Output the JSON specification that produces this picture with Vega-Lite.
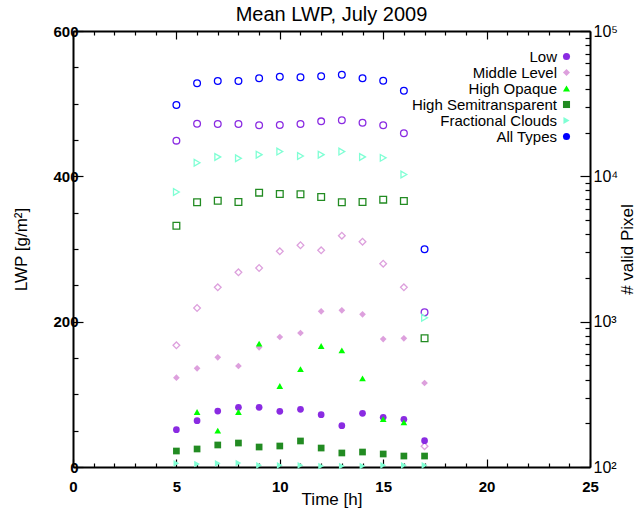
{
  "$schema": "https://vega.github.io/schema/vega-lite/v6.json",
  "width": 517,
  "height": 436,
  "autosize": "none",
  "padding": {"left": 73, "top": 31, "right": 47, "bottom": 47},
  "background": "white",
  "config": {
    "font": "Liberation Sans",
    "view": {"stroke": null},
    "axis": {"grid": false, "domainColor": "black", "domainWidth": 2, "tickColor": "black", "tickWidth": 1.2, "labelColor": "black", "titleColor": "black", "labelOverlap": false, "labelFlush": false}
  },
  "title": {"text": "Mean LWP, July 2009", "fontSize": 20, "fontWeight": "normal", "color": "black", "offset": 10, "baseline": "alphabetic", "dy": 28},
  "data": {
    "values": [
      {"h": 5, "type": "Low", "lwp": 51.3, "n": 17600},
      {"h": 6, "type": "Low", "lwp": 63.7, "n": 23000},
      {"h": 7, "type": "Low", "lwp": 77, "n": 22900},
      {"h": 8, "type": "Low", "lwp": 82.1, "n": 22900},
      {"h": 9, "type": "Low", "lwp": 82.1, "n": 22450},
      {"h": 10, "type": "Low", "lwp": 76.6, "n": 22550},
      {"h": 11, "type": "Low", "lwp": 79.4, "n": 22900},
      {"h": 12, "type": "Low", "lwp": 72, "n": 23900},
      {"h": 13, "type": "Low", "lwp": 56.8, "n": 24300},
      {"h": 14, "type": "Low", "lwp": 73.9, "n": 23400},
      {"h": 15, "type": "Low", "lwp": 68.4, "n": 22450},
      {"h": 16, "type": "Low", "lwp": 65.6, "n": 19800},
      {"h": 17, "type": "Low", "lwp": 36.2, "n": 1160},
      {"h": 5, "type": "Middle Level", "lwp": 122.9, "n": 688},
      {"h": 6, "type": "Middle Level", "lwp": 135.8, "n": 1242},
      {"h": 7, "type": "Middle Level", "lwp": 150.9, "n": 1724},
      {"h": 8, "type": "Middle Level", "lwp": 139, "n": 2187},
      {"h": 9, "type": "Middle Level", "lwp": 164.7, "n": 2340},
      {"h": 10, "type": "Middle Level", "lwp": 178.9, "n": 3050},
      {"h": 11, "type": "Middle Level", "lwp": 184.4, "n": 3355},
      {"h": 12, "type": "Middle Level", "lwp": 214.2, "n": 3098},
      {"h": 13, "type": "Middle Level", "lwp": 215.6, "n": 3905},
      {"h": 14, "type": "Middle Level", "lwp": 210.1, "n": 3550},
      {"h": 15, "type": "Middle Level", "lwp": 176.1, "n": 2506},
      {"h": 16, "type": "Middle Level", "lwp": 177.1, "n": 1724},
      {"h": 17, "type": "Middle Level", "lwp": 115.6, "n": 139},
      {"h": 6, "type": "High Opaque", "lwp": 75.7, "n": null},
      {"h": 7, "type": "High Opaque", "lwp": 50, "n": null},
      {"h": 8, "type": "High Opaque", "lwp": 75.7, "n": null},
      {"h": 9, "type": "High Opaque", "lwp": 169.7, "n": null},
      {"h": 10, "type": "High Opaque", "lwp": 111.5, "n": null},
      {"h": 11, "type": "High Opaque", "lwp": 134.8, "n": null},
      {"h": 12, "type": "High Opaque", "lwp": 166.5, "n": null},
      {"h": 13, "type": "High Opaque", "lwp": 160.6, "n": null},
      {"h": 14, "type": "High Opaque", "lwp": 122, "n": null},
      {"h": 15, "type": "High Opaque", "lwp": 66, "n": null},
      {"h": 16, "type": "High Opaque", "lwp": 61.5, "n": null},
      {"h": 5, "type": "High Semitransparent", "lwp": 22, "n": 4575},
      {"h": 6, "type": "High Semitransparent", "lwp": 24.8, "n": 6630},
      {"h": 7, "type": "High Semitransparent", "lwp": 30.3, "n": 6800},
      {"h": 8, "type": "High Semitransparent", "lwp": 33, "n": 6660},
      {"h": 9, "type": "High Semitransparent", "lwp": 27.5, "n": 7720},
      {"h": 10, "type": "High Semitransparent", "lwp": 28.9, "n": 7560},
      {"h": 11, "type": "High Semitransparent", "lwp": 35.8, "n": 7520},
      {"h": 12, "type": "High Semitransparent", "lwp": 26.1, "n": 7210},
      {"h": 13, "type": "High Semitransparent", "lwp": 19.3, "n": 6630},
      {"h": 14, "type": "High Semitransparent", "lwp": 20.6, "n": 6660},
      {"h": 15, "type": "High Semitransparent", "lwp": 17.9, "n": 6910},
      {"h": 16, "type": "High Semitransparent", "lwp": 15.1, "n": 6770},
      {"h": 17, "type": "High Semitransparent", "lwp": 15.1, "n": 769},
      {"h": 5, "type": "Fractional Clouds", "lwp": 5, "n": 7800},
      {"h": 6, "type": "Fractional Clouds", "lwp": 4.1, "n": 12400},
      {"h": 7, "type": "Fractional Clouds", "lwp": 5, "n": 13600},
      {"h": 8, "type": "Fractional Clouds", "lwp": 5.5, "n": 13300},
      {"h": 9, "type": "Fractional Clouds", "lwp": 2.3, "n": 14100},
      {"h": 10, "type": "Fractional Clouds", "lwp": 2.3, "n": 14800},
      {"h": 11, "type": "Fractional Clouds", "lwp": 2.3, "n": 13800},
      {"h": 12, "type": "Fractional Clouds", "lwp": 1.4, "n": 14100},
      {"h": 13, "type": "Fractional Clouds", "lwp": 1.4, "n": 14800},
      {"h": 14, "type": "Fractional Clouds", "lwp": 1.4, "n": 13600},
      {"h": 15, "type": "Fractional Clouds", "lwp": 2.3, "n": 13400},
      {"h": 16, "type": "Fractional Clouds", "lwp": 2.3, "n": 10300},
      {"h": 17, "type": "Fractional Clouds", "lwp": 2.3, "n": 1065},
      {"h": 5, "type": "All Types", "lwp": null, "n": 30970},
      {"h": 6, "type": "All Types", "lwp": null, "n": 43650},
      {"h": 7, "type": "All Types", "lwp": null, "n": 45300},
      {"h": 8, "type": "All Types", "lwp": null, "n": 45300},
      {"h": 9, "type": "All Types", "lwp": null, "n": 47300},
      {"h": 10, "type": "All Types", "lwp": null, "n": 48500},
      {"h": 11, "type": "All Types", "lwp": null, "n": 48000},
      {"h": 12, "type": "All Types", "lwp": null, "n": 48800},
      {"h": 13, "type": "All Types", "lwp": null, "n": 50000},
      {"h": 14, "type": "All Types", "lwp": null, "n": 47300},
      {"h": 15, "type": "All Types", "lwp": null, "n": 45500},
      {"h": 16, "type": "All Types", "lwp": null, "n": 38800},
      {"h": 17, "type": "All Types", "lwp": null, "n": 3150}
    ]
  },
  "layer": [
    {
      "mark": {"type": "point", "filled": false, "size": 45, "strokeWidth": 1.3, "opacity": 1},
      "encoding": {
        "x": {"field": "h", "type": "quantitative", "scale": {"domain": [0, 25], "nice": false},
          "axis": {"orient": "top", "title": null, "labels": false, "values": [0,1,2,3,4,5,6,7,8,9,10,11,12,13,14,15,16,17,18,19,20,21,22,23,24,25],
            "tickSize": {"condition": {"test": "datum.value % 5 == 0", "value": -8}, "value": -4}}},
        "y": {"field": "n", "type": "quantitative", "scale": {"type": "log", "domain": [100, 100000], "nice": false},
          "axis": {"orient": "right", "title": "# valid Pixel", "titleAngle": -90, "titleFontSize": 17, "titleFontWeight": "normal", "titlePadding": 19,
            "values": [100,200,300,400,500,600,700,800,900,1000,2000,3000,4000,5000,6000,7000,8000,9000,10000,20000,30000,40000,50000,60000,70000,80000,90000,100000],
            "labelExpr": "datum.value == 100 ? '10²' : datum.value == 1000 ? '10³' : datum.value == 10000 ? '10⁴' : datum.value == 100000 ? '10⁵' : ''",
            "labelFontSize": 16, "labelFontWeight": "normal", "labelPadding": 13,
            "tickSize": {"condition": {"test": "datum.value == 100 || datum.value == 1000 || datum.value == 10000 || datum.value == 100000", "value": -10}, "value": -5}}},
        "color": {"field": "type", "type": "nominal", "legend": null,
          "scale": {"domain": ["Low", "Middle Level", "High Opaque", "High Semitransparent", "Fractional Clouds", "All Types"], "range": ["#8A2BE2", "#DDA0DD", "#00FF00", "#228B22", "#7FFFD4", "#0000FF"]}},
        "shape": {"field": "type", "type": "nominal", "legend": null,
          "scale": {"domain": ["Low", "Middle Level", "High Opaque", "High Semitransparent", "Fractional Clouds", "All Types"], "range": ["circle", "diamond", "triangle-up", "square", "triangle-right", "circle"]}}
      }
    },
    {
      "mark": {"type": "point", "filled": true, "size": 45, "opacity": 1},
      "encoding": {
        "x": {"field": "h", "type": "quantitative", "scale": {"domain": [0, 25], "nice": false},
          "axis": {"orient": "bottom", "title": "Time [h]", "titleFontSize": 17, "titleFontWeight": "normal", "titlePadding": -7,
            "values": [0,1,2,3,4,5,6,7,8,9,10,11,12,13,14,15,16,17,18,19,20,21,22,23,24,25],
            "labelExpr": "datum.value % 5 == 0 ? datum.label : ''", "labelFontSize": 15, "labelFontWeight": "bold", "labelPadding": 20,
            "tickSize": {"condition": {"test": "datum.value % 5 == 0", "value": -8}, "value": -4}}},
        "y": {"field": "lwp", "type": "quantitative", "scale": {"domain": [0, 600], "nice": false},
          "axis": {"orient": "left", "title": "LWP [g/m²]", "titleFontSize": 17, "titleFontWeight": "normal", "titlePadding": 22,
            "values": [0,50,100,150,200,250,300,350,400,450,500,550,600],
            "labelExpr": "datum.value % 200 == 0 ? datum.label : ''", "labelFontSize": 15, "labelFontWeight": "bold", "labelPadding": 5,
            "tickSize": {"condition": {"test": "datum.value % 200 == 0", "value": -10}, "value": -5}}},
        "color": {"field": "type", "type": "nominal",
          "scale": {"domain": ["Low", "Middle Level", "High Opaque", "High Semitransparent", "Fractional Clouds", "All Types"], "range": ["#8A2BE2", "#DDA0DD", "#00FF00", "#228B22", "#7FFFD4", "#0000FF"]},
          "legend": {"title": null, "orient": "none", "legendX": 486, "legendY": 18, "labelAlign": "right", "labelOffset": -17, "labelFontSize": 15, "labelColor": "black", "symbolSize": 50, "rowPadding": -0.7, "padding": 0}},
        "shape": {"field": "type", "type": "nominal",
          "scale": {"domain": ["Low", "Middle Level", "High Opaque", "High Semitransparent", "Fractional Clouds", "All Types"], "range": ["circle", "diamond", "triangle-up", "square", "triangle-right", "circle"]},
          "legend": {"title": null, "orient": "none", "legendX": 486, "legendY": 18, "labelAlign": "right", "labelOffset": -17, "labelFontSize": 15, "labelColor": "black", "symbolSize": 50, "rowPadding": -0.7, "padding": 0}}
      }
    }
  ],
  "resolve": {"scale": {"y": "independent"}, "axis": {"x": "independent"}, "legend": {"color": "independent", "shape": "independent"}}
}
